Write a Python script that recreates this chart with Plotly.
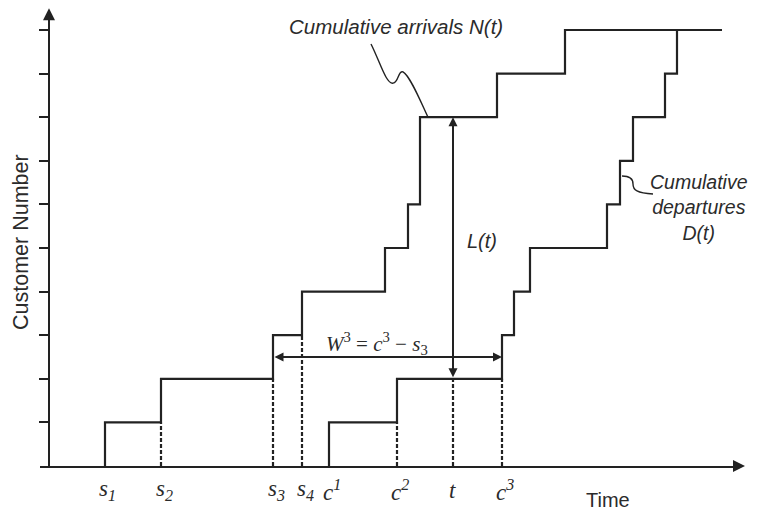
import plotly.graph_objects as go

# ---------------- data (time in arbitrary units, customer counts) ----------------
arrival_times = [5.6, 11.2, 22.4, 25.3, 33.6, 35.9, 37.1, 37.1, 44.8, 51.6]
departure_times = [28.0, 34.8, 45.3, 46.5, 48.1, 55.8, 57.1, 58.4, 61.6, 62.8]
arrivals_end = 67.3
t_obs = 40.4
customer_ticks = list(range(1, 11))
s_labels = ["s<sub>1</sub>", "s<sub>2</sub>", "s<sub>3</sub>", "s<sub>4</sub>"]
c_labels = ["c<sup>1</sup>", "c<sup>2</sup>", "c<sup>3</sup>"]
t_label = "t"

INK = "#222222"
TXT = "#2b2b2b"
SANS = "Liberation Sans, Arial, sans-serif"
SERIF = "Liberation Serif, Times New Roman, serif"

# page body has an 8px margin, so the figure is 8px smaller on each side
W, H = 751, 502
X_DOM = [32 / W, 730 / W]
X_RNG = [-0.9, 68.9]
Y_DOM = [44 / H, 496 / H]
Y_RNG = [0, 452 / 43.6]


def xp(t):
    return X_DOM[0] + (t - X_RNG[0]) / (X_RNG[1] - X_RNG[0]) * (X_DOM[1] - X_DOM[0])


def count_le(times, x):
    return sum(1 for v in times if v <= x)


def count_lt(times, x):
    return sum(1 for v in times if v < x)


n_cust = len(arrival_times)
levels = list(range(1, n_cust + 1))

fig = go.Figure()

# cumulative arrivals N(t)
fig.add_trace(go.Scatter(
    x=[arrival_times[0]] + arrival_times + [arrivals_end],
    y=[0] + levels + [n_cust],
    mode="lines", line=dict(color=INK, width=2.2, shape="hv"),
    hoverinfo="skip", showlegend=False))

# cumulative departures D(t)
fig.add_trace(go.Scatter(
    x=[departure_times[0]] + departure_times,
    y=[0] + levels,
    mode="lines", line=dict(color=INK, width=2.2, shape="hv"),
    hoverinfo="skip", showlegend=False))

# dashed drop lines
drop_x = arrival_times[1:4] + departure_times[1:3] + [t_obs]
drop_h = ([count_lt(arrival_times, v) for v in arrival_times[1:4]]
          + [count_lt(departure_times, v) for v in departure_times[1:3]]
          + [count_le(departure_times, t_obs)])
dx, dy = [], []
for xv, h in zip(drop_x, drop_h):
    dx += [xv, xv, None]
    dy += [0, h, None]
fig.add_trace(go.Scatter(x=dx, y=dy, mode="lines",
                         line=dict(color=INK, width=2.2, dash="4px,2px"),
                         hoverinfo="skip", showlegend=False))

ann = []

# axis arrowheads
ann.append(dict(x=0, y=10.5, ax=0, ay=10.1, xref="x", yref="y", axref="x", ayref="y",
                text="", showarrow=True, arrowhead=2, arrowsize=1.2, arrowwidth=2,
                arrowcolor=INK))
ann.append(dict(x=69.6, y=0, ax=68.6, ay=0, xref="x", yref="y", axref="x", ayref="y",
                text="", showarrow=True, arrowhead=2, arrowsize=1.2, arrowwidth=2,
                arrowcolor=INK))

# L(t) double arrow
N_t = count_le(arrival_times, t_obs)
D_t = count_le(departure_times, t_obs)
ann.append(dict(x=t_obs, y=N_t, ax=t_obs, ay=D_t, xref="x", yref="y", axref="x", ayref="y",
                text="", showarrow=True, arrowside="end+start", arrowhead=2,
                startarrowhead=2, arrowsize=0.9, startarrowsize=0.9, arrowwidth=2,
                arrowcolor=INK))
# W3 double arrow
w_y = 2.5
ann.append(dict(x=departure_times[2], y=w_y, ax=arrival_times[2], ay=w_y, xref="x", yref="y",
                axref="x", ayref="y", text="", showarrow=True, arrowside="end+start",
                arrowhead=2, startarrowhead=2, arrowsize=0.9, startarrowsize=0.9,
                arrowwidth=2, arrowcolor=INK))

# time-axis labels (paper coords, below the axis)
lab_y = 20 / H
lab_font = dict(family=SERIF, size=23, color=TXT)
for xv, lab in zip(arrival_times[:4], s_labels):
    ann.append(dict(x=xp(xv + 0.3), y=lab_y, xref="paper", yref="paper",
                    xanchor="center", yanchor="middle", text="<i>" + lab + "</i>",
                    showarrow=False, font=lab_font))
for xv, lab in zip(departure_times[:3], c_labels):
    ann.append(dict(x=xp(xv + 0.3), y=lab_y, xref="paper", yref="paper",
                    xanchor="center", yanchor="middle", text="<i>" + lab + "</i>",
                    showarrow=False, font=lab_font))
ann.append(dict(x=xp(t_obs), y=lab_y, xref="paper", yref="paper",
                xanchor="center", yanchor="middle", text="<i>" + t_label + "</i>",
                showarrow=False, font=lab_font))

# text labels
ann.append(dict(x=xp(55.9), y=10 / H, xref="paper", yref="paper", text="Time",
                xanchor="center", yanchor="middle",
                showarrow=False, font=dict(family=SANS, size=20, color=TXT)))
ann.append(dict(x=0, y=268 / H, xref="paper", yref="paper", text="Customer Number",
                xanchor="left", yanchor="middle", borderpad=0,
                showarrow=False, textangle=-90, font=dict(family=SANS, size=21.5, color=TXT)))
ann.append(dict(x=34.7, y=10.07, xref="x", yref="y", text="<i>Cumulative arrivals N(t)</i>",
                showarrow=False, font=dict(family=SANS, size=20.5, color=TXT)))
ann.append(dict(x=65.0, y=5.94, xref="x", yref="y",
                text="<i>Cumulative<br>departures<br>D(t)</i>",
                showarrow=False, font=dict(family=SANS, size=19.5, color=TXT)))
ann.append(dict(x=43.3, y=5.16, xref="x", yref="y", text="<i>L(t)</i>",
                showarrow=False, font=dict(family=SANS, size=20, color=TXT)))
ann.append(dict(x=32.8, y=2.82, xref="x", yref="y",
                text="<i>W</i><sup>3</sup> = <i>c</i><sup>3</sup> \u2212 <i>s</i><sub>3</sub>",
                showarrow=False, font=dict(family=SERIF, size=21, color=TXT)))

# leader curves
shapes = [
    dict(type="path", xref="x", yref="y",
         path="M32.2,9.68 C33.1,9.27 33.7,8.76 34.4,8.78 C35.0,8.81 34.9,9.08 35.4,9.04 "
              "C36.1,8.95 37.1,8.39 37.9,8.0",
         line=dict(color=INK, width=1.4)),
    dict(type="path", xref="x", yref="y",
         path="M57.3,6.65 C58.1,6.65 58.4,6.58 58.4,6.47 C58.4,6.33 58.8,6.26 60.4,6.24",
         line=dict(color=INK, width=1.4)),
]

fig.update_layout(
    width=W, height=H,
    margin=dict(l=0, r=0, t=0, b=0),
    paper_bgcolor="white", plot_bgcolor="white",
    showlegend=False,
    annotations=ann, shapes=shapes,
    xaxis=dict(domain=X_DOM, range=X_RNG,
               showgrid=False, zeroline=False, showticklabels=False, ticks="",
               showline=True, linecolor=INK, linewidth=2, anchor="y", fixedrange=True),
    yaxis=dict(domain=Y_DOM, range=Y_RNG,
               showgrid=False, zeroline=False, showticklabels=False,
               tickmode="array", tickvals=customer_ticks, ticks="outside", ticklen=9,
               tickwidth=2, tickcolor=INK,
               showline=True, linecolor=INK, linewidth=2,
               anchor="free", position=41 / W, fixedrange=True),
)

fig.write_html("out.html")
